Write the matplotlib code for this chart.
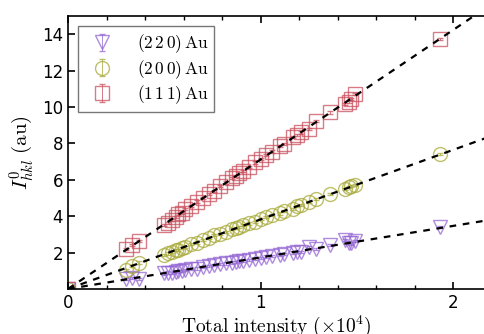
import numpy as np
import matplotlib
matplotlib.use('Agg')
import matplotlib.pyplot as plt

plt.rcParams['mathtext.fontset'] = 'cm'

# total intensity (x 10^4), same samples for all reflections
total = [0.0, 0.30, 0.33, 0.37, 0.50, 0.52, 0.54, 0.56, 0.57, 0.59, 0.61, 0.64, 0.67, 0.70,
         0.73, 0.76, 0.79, 0.82, 0.85, 0.87, 0.89, 0.91, 0.94, 0.97, 1.00, 1.03, 1.06, 1.10,
         1.12, 1.17, 1.19, 1.21, 1.25, 1.29, 1.36, 1.44, 1.46, 1.47, 1.49, 1.93]

i111 = [0, 2.20, 2.40, 2.62, 3.50, 3.62, 3.80, 3.95, 4.10, 4.20, 4.38, 4.55, 4.80, 5.00,
        5.22, 5.40, 5.65, 5.85, 6.08, 6.20, 6.35, 6.48, 6.70, 6.95, 7.12, 7.35, 7.55, 7.85,
        7.95, 8.35, 8.45, 8.60, 8.80, 9.25, 9.70, 10.15, 10.30, 10.45, 10.70, 13.75]
i200 = [0, 1.05, 1.25, 1.45, 1.85, 1.95, 2.05, 2.15, 2.12, 2.25, 2.30, 2.45, 2.55, 2.70,
        2.80, 2.95, 3.00, 3.15, 3.28, 3.35, 3.40, 3.50, 3.60, 3.70, 3.85, 3.95, 4.05, 4.15,
        4.28, 4.40, 4.55, 4.60, 4.77, 4.95, 5.20, 5.50, 5.60, 5.65, 5.70, 7.40]
i220 = [0, 0.55, 0.60, 0.55, 0.85, 0.90, 0.88, 0.95, 0.98, 1.00, 1.05, 1.10, 1.12, 1.20,
        1.25, 1.30, 1.35, 1.40, 1.45, 1.50, 1.52, 1.55, 1.60, 1.65, 1.70, 1.78, 1.80, 1.85,
        1.90, 2.00, 2.05, 2.02, 2.30, 2.20, 2.40, 2.70, 2.55, 2.50, 2.62, 3.40]

series = [
    (i220, 'v', '#9467d4', r'$(2\,2\,0)\,\mathrm{Au}$'),
    (i200, 'o', '#a9aa3a', r'$(2\,0\,0)\,\mathrm{Au}$'),
    (i111, 's', '#c9505e', r'$(1\,1\,1)\,\mathrm{Au}$'),
]

fig = plt.figure(figsize=(4.84, 3.34), dpi=100)
ax = fig.add_axes([0.1405, 0.135, 0.8595, 0.817])

x = np.array(total)
xl = np.array([0, 2.3])
for vals, mk, col, lab in series:
    ax.errorbar(total, vals, yerr=0.06, fmt=mk, mfc='none', mec=col, ms=10, mew=1.0,
                ecolor=col, elinewidth=0.7, capsize=2, alpha=0.75, label=lab, zorder=2)
    y = np.array(vals)
    slope = (x * y).sum() / (x * x).sum()
    ax.plot(xl, slope * xl, '--', color='black', lw=1.6, dashes=(3, 3), zorder=3)

ax.set_xlim(0, 2.16)
ax.set_ylim(0, 15)
ax.set_xticks([0, 1, 2])
ax.set_xticks(np.arange(0, 2.2, 0.2), minor=True)
ax.set_yticks([2, 4, 6, 8, 10, 12, 14])
ax.tick_params(direction='in', top=True, right=False, labelsize=12, width=1.2, length=5)
ax.tick_params(which='minor', direction='in', top=True, right=False, width=1.0, length=3)
ax.spines['right'].set_visible(False)
for s in ['left', 'bottom', 'top']:
    ax.spines[s].set_linewidth(1.2)

ax.set_xlabel(r'$\mathrm{Total\ intensity}\ (\times 10^4)$', fontsize=14, labelpad=1)
ax.set_ylabel(r'$I^0_{hkl}\ (\mathrm{au})$', fontsize=15, labelpad=4)

leg = ax.legend(loc='upper left', fontsize=12.5, fancybox=False, edgecolor='#555555',
                borderpad=0.35, handletextpad=1.0, labelspacing=0.15, borderaxespad=0.6)
leg.get_frame().set_linewidth(1.0)

fig.savefig('out.png', dpi=100)
